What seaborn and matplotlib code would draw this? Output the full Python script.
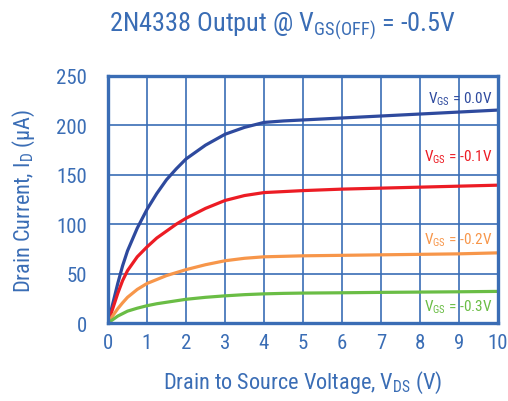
import matplotlib
matplotlib.use("Agg")
import matplotlib.pyplot as plt
import seaborn as sns
import pandas as pd
from matplotlib import font_manager

vds = [0, 0.125, 0.25, 0.375, 0.5, 0.75, 1, 1.25, 1.5, 1.75, 2, 2.5, 3, 3.5, 4, 4.5, 5, 6, 7, 8, 9, 10]
id_00 = [0, 20, 40, 58, 73, 96, 115, 131, 145, 156, 166, 180, 191, 198, 203, 204.5, 205.5, 207.5, 209.5, 211.5, 213.5, 215.5]
id_01 = [0, 15, 30, 43, 53, 67, 77, 86, 93, 100, 106, 116, 124, 129, 132, 133, 134, 135.5, 136.5, 137.5, 138.5, 139.5]
id_02 = [0, 7.5, 14.5, 20.5, 26, 34, 40, 44, 48, 51, 54, 59, 63, 65.5, 67, 67.5, 68, 68.5, 69, 69.5, 70, 71]
id_03 = [0, 3.5, 7, 9.5, 12, 15, 17.5, 19.5, 21, 22.5, 24, 26, 27.5, 28.7, 29.5, 30, 30.3, 30.6, 31, 31.3, 31.6, 32]
series_names = ["0.0V", "-0.1V", "-0.2V", "-0.3V"]
label_y = [227, 169, 85, 17]
colors = ["#2E4A9E", "#EC1C24", "#F7964A", "#6ABD45"]
x_ticks = list(range(0, 11))
y_ticks = [0, 50, 100, 150, 200, 250]

sns.set_theme(style="white")
names = {f.name for f in font_manager.fontManager.ttflist}
fam = None
for cand in ["Roboto Condensed", "Liberation Sans Narrow", "DejaVu Sans"]:
    if cand in names:
        fam = cand
        break
plt.rcParams['font.family'] = [fam, 'DejaVu Sans']
plt.rcParams['mathtext.fontset'] = 'custom'
plt.rcParams['mathtext.rm'] = fam
plt.rcParams['mathtext.it'] = fam

blue = "#3A6DB5"

rows = []
for name, vals in zip(series_names, [id_00, id_01, id_02, id_03]):
    for x, y in zip(vds, vals):
        rows.append({"Vds": x, "Id": y, "Vgs": name})
df = pd.DataFrame(rows)

fig = plt.figure(figsize=(5.08, 4.02), dpi=100)
ax = fig.add_axes([0.2126, 0.194, 0.7677, 0.6145])
sns.lineplot(data=df, x="Vds", y="Id", hue="Vgs", palette=colors, linewidth=2.3,
             legend=False, ax=ax, solid_joinstyle='round', solid_capstyle='round')
ax.set_xlim(0, 10)
ax.set_ylim(0, 250)
ax.set_xticks(x_ticks)
ax.set_yticks(y_ticks)
ax.grid(True, color=blue, linewidth=1.2)
ax.set_axisbelow(True)
for s in ax.spines.values():
    s.set_color(blue)
    s.set_linewidth(2.4)
ax.tick_params(axis='both', length=0, labelsize=15, labelcolor=blue)
ax.tick_params(axis='y', pad=15)
ax.tick_params(axis='x', pad=7)
ax.set_xlabel("Drain to Source Voltage, V$_\\mathregular{DS}$ (V)", fontsize=16, color=blue, labelpad=12)
ax.set_ylabel("Drain Current, I$_\\mathregular{D}$ (\u00b5A)", fontsize=16, color=blue, labelpad=14)

for name, yv, c in zip(series_names, label_y, colors):
    ax.text(9.85, yv, "V$_\\mathregular{GS}$ = " + name, color=c, fontsize=11,
            ha='right', va='center')

fig.text(0.556, 0.935, "2N4338 Output @ V$_\\mathregular{GS(OFF)}$ = -0.5V", fontsize=19,
         color=blue, ha='center', va='center')

fig.savefig("out.png", dpi=100)
